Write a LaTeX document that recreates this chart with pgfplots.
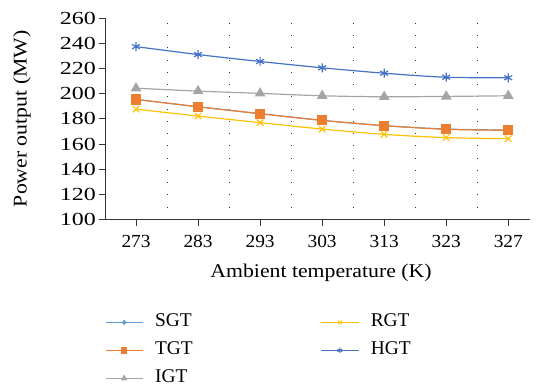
\documentclass[border=0pt]{standalone}
\usepackage{pgfplots}
\pgfplotsset{compat=1.18}
\usepackage{fontspec}
\setmainfont{Liberation Serif}
\newfontfamily\xtfont[FakeStretch=1.05]{Liberation Serif}
\newfontfamily\ytfont[FakeStretch=1.3]{Liberation Serif}
\newfontfamily\lbfont[FakeStretch=1.12]{Liberation Serif}
\definecolor{cSGT}{HTML}{5B9BD5}
\definecolor{cTGT}{HTML}{ED7D31}
\definecolor{cIGT}{HTML}{A5A5A5}
\definecolor{cRGT}{HTML}{FFC000}
\definecolor{cHGT}{HTML}{4472C4}
\begin{document}
\begin{tikzpicture}
\begin{axis}[
  scale only axis,
  width=425bp, height=201.7bp,
  xmin=-0.5, xmax=6.35,
  ymin=100, ymax=260,
  ytick={100,120,...,260},
  xtick={0,...,6},
  xticklabels={273,283,293,303,313,323,327},
  minor xtick={0.5,1.5,...,5.5},
  xminorgrids,
  minor tick length=0pt,
  minor grid style={black!80, line width=0.8pt, dash pattern=on 0.8pt off 11.5pt},
  axis x line=bottom, axis y line=left,
  axis line style={-, black!80, line width=0.8pt},
  tick align=outside,
  major tick length=6bp,
  tick style={black!80, line width=0.8pt},
  /pgf/number format/assume math mode=true,
  xticklabel style={font=\xtfont\fontsize{18.5}{20}\selectfont, anchor=north, inner sep=0pt, yshift=-9bp},
  yticklabel style={font=\ytfont\fontsize{18.5}{20}\selectfont, anchor=east, inner sep=0pt, xshift=-3bp},
  every axis x label/.style={at={(axis description cs:0.5,0)}, anchor=center, xshift=3.5bp, yshift=-53bp, font=\lbfont\fontsize{19.5}{22}\selectfont},
  every axis y label/.style={at={(axis description cs:0,0.5)}, anchor=center, xshift=-83bp, rotate=90, font=\lbfont\fontsize{19.5}{22}\selectfont},
  xlabel={Ambient temperature (K)},
  ylabel={Power output (MW)},
  legend columns=2,
  legend style={draw=none, fill=none, at={(axis description cs:0,0)}, anchor=north west, yshift=-94bp,
    inner sep=0pt,
    font=\fontsize{19.5}{22}\selectfont,
    nodes={inner sep=0pt, text height=13bp, text depth=4bp},
    /tikz/every odd column/.append style={column sep=12bp},
    /tikz/every even column/.append style={column sep=128bp},
    row sep=11bp},
  legend cell align=left,
  legend image code/.code={\draw[mark repeat=2,mark phase=2, line width=0.9pt, every mark/.append style={scale=0.6}] plot coordinates {(0bp,0bp) (18.5bp,0bp) (37bp,0bp)};},
  every axis plot/.append style={line width=1.2pt, smooth},
]
\addplot[color=cSGT, mark=diamond*, mark size=3.5bp, mark options={fill=cSGT}] coordinates {
(0,195.4) (1,189.6) (2,184.1) (3,178.8) (4,174.6) (5,171.9) (6,171.1)};
\addlegendentry{SGT}
\addplot[color=cRGT, mark=x, mark size=4.5bp] coordinates {
(0,187.7) (1,182.2) (2,177.0) (3,171.9) (4,167.7) (5,165.1) (6,164.3)};
\addlegendentry{RGT}
\addplot[color=cTGT, mark=square*, mark size=4.5bp, mark options={fill=cTGT}] coordinates {
(0,195.4) (1,189.6) (2,184.1) (3,178.8) (4,174.6) (5,171.7) (6,170.9)};
\addlegendentry{TGT}
\addplot[color=cHGT, mark=asterisk, mark size=4.5bp] coordinates {
(0,237.3) (1,231.0) (2,225.5) (3,220.5) (4,216.2) (5,213.0) (6,212.6)};
\addlegendentry{HGT}
\addplot[color=cIGT, mark=triangle*, mark size=5bp, mark options={fill=cIGT}] coordinates {
(0,204.3) (1,202.0) (2,200.2) (3,198.3) (4,197.5) (5,197.8) (6,198.3)};
\addlegendentry{IGT}
\end{axis}
\pgfresetboundingbox
\path[use as bounding box] (-105bp,-167.3bp) rectangle (432bp,219.7bp);
\end{tikzpicture}
\end{document}
